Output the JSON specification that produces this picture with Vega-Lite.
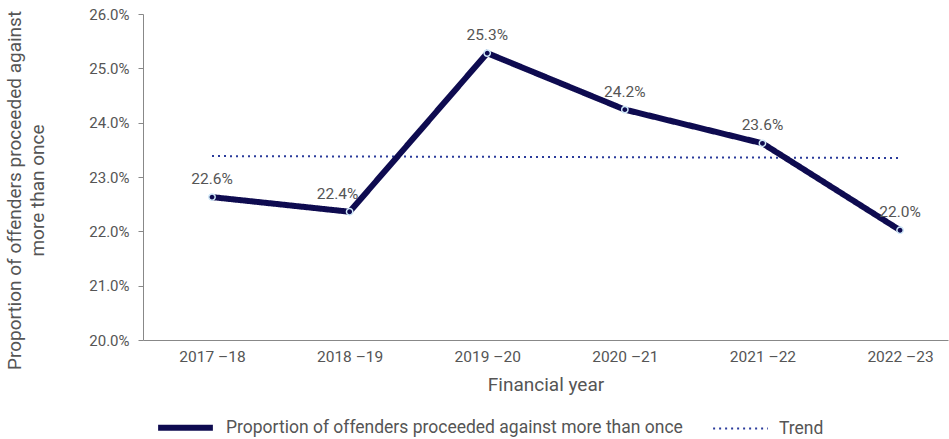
{
  "$schema": "https://vega.github.io/schema/vega-lite/v6.json",
  "width": 805,
  "height": 326,
  "autosize": {"type": "none"},
  "padding": {"left": 143, "top": 14, "right": 1, "bottom": 99},
  "config": {
    "font": "Roboto",
    "view": {"stroke": null},
    "axis": {"labelColor": "#555555", "titleColor": "#555555", "domainColor": "#888888", "tickColor": "#888888", "grid": false, "labelFontWeight": "normal", "titleFontWeight": "normal"},
    "legend": {"labelColor": "#555555"}
  },
  "datasets": {
    "main": [
      {"year": "2017 –18", "value": 0.2263, "series": "Proportion of offenders proceeded against more than once"},
      {"year": "2018 –19", "value": 0.2236, "series": "Proportion of offenders proceeded against more than once"},
      {"year": "2019 –20", "value": 0.2528, "series": "Proportion of offenders proceeded against more than once"},
      {"year": "2020 –21", "value": 0.2424, "series": "Proportion of offenders proceeded against more than once"},
      {"year": "2021 –22", "value": 0.2362, "series": "Proportion of offenders proceeded against more than once"},
      {"year": "2022 –23", "value": 0.2202, "series": "Proportion of offenders proceeded against more than once"}
    ],
    "trend": [
      {"year": "2017 –18", "value": 0.23385, "series": "Trend"},
      {"year": "2018 –19", "value": 0.23378, "series": "Trend"},
      {"year": "2019 –20", "value": 0.23371, "series": "Trend"},
      {"year": "2020 –21", "value": 0.23364, "series": "Trend"},
      {"year": "2021 –22", "value": 0.23357, "series": "Trend"},
      {"year": "2022 –23", "value": 0.2335, "series": "Trend"}
    ]
  },
  "encoding": {
    "x": {
      "field": "year", "type": "ordinal", "sort": null,
      "scale": {"type": "point", "padding": 0.425, "align": 0.59},
      "axis": {"title": "Financial year", "labelAngle": 0, "ticks": false, "labelFontSize": 15.5, "labelPadding": 9, "titleFontSize": 19, "titlePadding": 11}
    },
    "y": {
      "field": "value", "type": "quantitative",
      "scale": {"domain": [0.2, 0.26], "nice": false, "zero": false},
      "axis": {
        "values": [0.2, 0.21, 0.22, 0.23, 0.24, 0.25, 0.26],
        "format": ".1%", "labelFontSize": 15, "tickSize": 5, "labelPadding": 9,
        "title": ["Proportion of offenders proceeded against", "more than once"],
        "titleFontSize": 19, "titleAngle": -90, "titleAlign": "center", "titleBaseline": "middle",
        "titleX": -129, "titleY": 176, "titleLineHeight": 23
      }
    }
  },
  "layer": [
    {
      "data": {"name": "trend"},
      "mark": {"type": "line", "strokeCap": "butt"},
      "encoding": {
        "color": {"field": "series", "type": "nominal", "scale": {"domain": ["Proportion of offenders proceeded against more than once", "Trend"], "range": ["#0e0b50", "#2a3b9b"]}, "legend": {"orient": "none", "legendX": 12, "legendY": 383, "direction": "horizontal", "title": null, "labelFontSize": 17.5, "labelLimit": 0, "symbolType": "stroke", "symbolSize": 3000, "labelOffset": 10, "columnPadding": 26}},
        "strokeDash": {"field": "series", "type": "nominal", "scale": {"domain": ["Proportion of offenders proceeded against more than once", "Trend"], "range": [[1, 0], [2, 4]]}, "legend": {"orient": "none", "legendX": 12, "legendY": 383, "direction": "horizontal", "title": null, "labelFontSize": 17.5, "labelLimit": 0, "symbolType": "stroke", "symbolSize": 3000, "labelOffset": 10, "columnPadding": 26}},
        "strokeWidth": {"field": "series", "type": "nominal", "scale": {"domain": ["Proportion of offenders proceeded against more than once", "Trend"], "range": [6, 2]}, "legend": {"orient": "none", "legendX": 12, "legendY": 383, "direction": "horizontal", "title": null, "labelFontSize": 17.5, "labelLimit": 0, "symbolType": "stroke", "symbolSize": 3000, "labelOffset": 10, "columnPadding": 26}}
      }
    },
    {
      "data": {"name": "main"},
      "mark": {"type": "line", "strokeJoin": "miter"},
      "encoding": {
        "color": {"field": "series", "type": "nominal"},
        "strokeDash": {"field": "series", "type": "nominal"},
        "strokeWidth": {"field": "series", "type": "nominal"}
      }
    },
    {
      "data": {"name": "main"},
      "mark": {"type": "point", "filled": false, "fill": "#0e0b50", "stroke": "#cfe8f8", "strokeWidth": 1.5, "size": 40, "opacity": 1, "fillOpacity": 1}
    },
    {
      "data": {"name": "main"},
      "transform": [{"filter": "datum.year != '2018 –19'"}],
      "mark": {"type": "text", "dy": -18, "fontSize": 15.5, "color": "#555555"},
      "encoding": {"text": {"field": "value", "type": "quantitative", "format": ".1%"}}
    },
    {
      "data": {"name": "main"},
      "transform": [{"filter": "datum.year == '2018 –19'"}],
      "mark": {"type": "text", "dy": -18, "dx": -12, "fontSize": 15.5, "color": "#555555"},
      "encoding": {"text": {"field": "value", "type": "quantitative", "format": ".1%"}}
    }
  ]
}
